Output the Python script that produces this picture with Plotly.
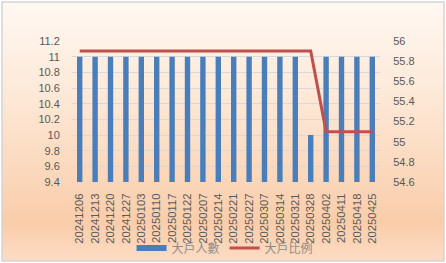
import base64
import plotly.graph_objects as go

dates = ["20241206", "20241213", "20241220", "20241227", "20250103", "20250110",
         "20250117", "20250122", "20250207", "20250214", "20250221", "20250227",
         "20250307", "20250314", "20250321", "20250328", "20250402", "20250411",
         "20250418", "20250425"]
holders = [11, 11, 11, 11, 11, 11, 11, 11, 11, 11, 11, 11, 11, 11, 11, 10, 11, 11, 11, 11]
ratio = [55.9] * 16 + [55.1] * 4

left_ticks = [9.4, 9.6, 9.8, 10, 10.2, 10.4, 10.6, 10.8, 11, 11.2]
left_labels = ["9.4", "9.6", "9.8", "10", "10.2", "10.4", "10.6", "10.8", "11", "11.2"]
right_ticks = [54.6, 54.8, 55, 55.2, 55.4, 55.6, 55.8, 56]
right_labels = ["54.6", "54.8", "55", "55.2", "55.4", "55.6", "55.8", "56"]

W, H = 446, 263
ML, MR, MT, MB = 72, 66, 41, 81
PW, PH = W - ML - MR, H - MT - MB

svg = f'''<svg xmlns="http://www.w3.org/2000/svg" width="{W}" height="{H}" viewBox="0 0 {W} {H}" preserveAspectRatio="none">
<defs><linearGradient id="g" x1="0" y1="0" x2="0" y2="1">
<stop offset="0" stop-color="#FFF8F2"/>
<stop offset="0.35" stop-color="#FDE9D8"/>
<stop offset="0.85" stop-color="#FACDAA"/>
<stop offset="1" stop-color="#FCDCC4"/>
</linearGradient></defs>
<rect x="0" y="0" width="{W}" height="{H}" fill="#FFFFFF"/>
<rect x="2" y="2" width="{W-4}" height="{H-4}" fill="url(#g)" stroke="#D4D4D4" stroke-width="1.5"/>
</svg>'''
src = "data:image/svg+xml;base64," + base64.b64encode(svg.encode()).decode()

FONT = "Liberation Sans, Arial, sans-serif"
CJK = "Noto Sans CJK TC, Noto Sans CJK SC, sans-serif"

fig = go.Figure()
fig.add_trace(go.Bar(x=dates, y=holders, name="大戶人數", marker_color="#4A7EBB",
                     marker_line_width=0, showlegend=False, yaxis="y"))
# legend glyph for the bar series (wide flat bar like Excel)
fig.add_trace(go.Scatter(x=[None], y=[None], mode="lines", name="大戶人數",
                         line=dict(color="#4A7EBB", width=6), yaxis="y"))
fig.add_trace(go.Scatter(x=dates, y=ratio, name="大戶比例", mode="lines",
                         line=dict(color="#C0504D", width=3), yaxis="y2"))

fig.update_layout(
    width=W, height=H,
    margin=dict(l=ML, r=MR, t=MT, b=MB, autoexpand=False),
    paper_bgcolor="#FFFFFF",
    plot_bgcolor="rgba(0,0,0,0)",
    bargap=0.65,
    font=dict(family=FONT, size=11, color="#595959"),
    images=[dict(source=src, xref="paper", yref="paper",
                 x=-ML / PW, y=(PH + MT) / PH, sizex=W / PW, sizey=H / PH,
                 xanchor="left", yanchor="top", sizing="stretch", layer="below")],
    xaxis=dict(type="category", tickangle=-90, showgrid=False, showline=False,
               ticks="outside", ticklen=6, tickcolor="rgba(0,0,0,0)",
               tickfont=dict(family=FONT, size=11.3, color="#595959")),
    yaxis=dict(range=[9.4, 11.2], tickvals=left_ticks, ticktext=left_labels,
               showgrid=True, gridcolor="#D9D9D9", gridwidth=1, zeroline=False,
               showline=False, ticks="outside", ticklen=9, tickcolor="rgba(0,0,0,0)",
               tickfont=dict(family=FONT, size=11, color="#595959")),
    yaxis2=dict(range=[54.6, 56], tickvals=right_ticks, ticktext=right_labels,
                overlaying="y", side="right", showgrid=False, zeroline=False,
                showline=False, ticks="outside", ticklen=10, tickcolor="rgba(0,0,0,0)",
                tickfont=dict(family=FONT, size=11, color="#595959")),
    legend=dict(orientation="h", x=0.497, y=(H - 248) / H, yref="container",
                xanchor="center", yanchor="middle", bgcolor="rgba(0,0,0,0)",
                font=dict(family=CJK, size=12, color="#8C8C8C"),
                itemwidth=30, tracegroupgap=0),
)

fig.write_html("out.html")
